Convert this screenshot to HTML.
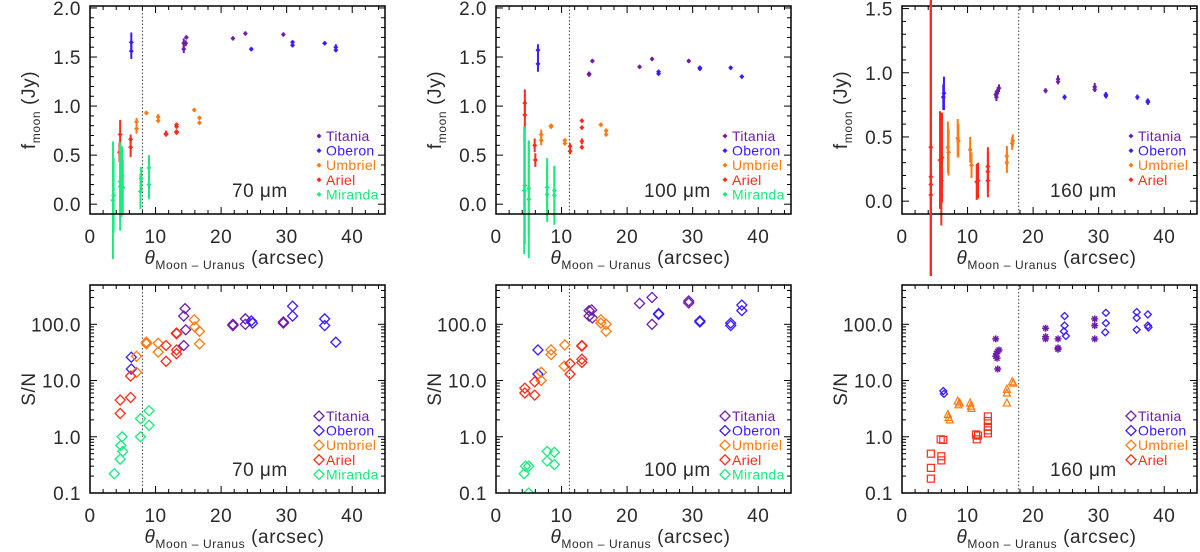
<!DOCTYPE html>
<html><head><meta charset="utf-8"><style>
body{margin:0;background:#fff;}
svg{display:block;font-family:"Liberation Sans",sans-serif;}
</style></head><body>
<svg id="c" width="1200" height="552" xmlns="http://www.w3.org/2000/svg"></svg>
<script>
const moons=["Titania","Oberon","Umbriel","Ariel","Miranda"];
const colors={Titania:"#6e1ea8",Oberon:"#3a1cff",Umbriel:"#ff7a12",Ariel:"#ff2a1a",Miranda:"#18ec7e"};
const xTicks=[0,10,20,30,40];
const fluxTicks12=["0.0","0.5","1.0","1.5","2.0"];
const fluxTicks3=["0.0","0.5","1.0","1.5"];
const snTicks=["0.1","1.0","10.0","100.0"];
const cutoffs=[8.0,11.2,17.8];
// flux data: [x, y, err]
const f70={
Titania:[[14.3,1.64,0.05],[14.3,1.58,0.04],[14.6,1.64,0.03],[14.7,1.70,0.02],[21.8,1.69,0.02],[23.7,1.74,0.02],[29.5,1.73,0.02]],
Oberon:[[6.3,1.65,0.1],[6.3,1.56,0.08],[24.6,1.58,0.02],[30.9,1.65,0.02],[30.9,1.62,0.02],[35.8,1.64,0.02],[37.5,1.60,0.03],[37.5,1.57,0.02]],
Umbriel:[[7.1,0.84,0.04],[7.1,0.77,0.05],[8.6,0.93,0.02],[10.4,0.89,0.03],[10.4,0.85,0.02],[15.9,0.96,0.02],[16.7,0.88,0.02],[16.7,0.83,0.02]],
Ariel:[[4.6,0.71,0.15],[4.5,0.53,0.1],[6.2,0.66,0.05],[6.2,0.58,0.1],[11.6,0.72,0.03],[11.6,0.71,0.02],[13.2,0.81,0.02],[13.2,0.79,0.02],[13.2,0.74,0.02],[13.2,0.73,0.02]],
Miranda:[[3.5,0.04,0.6],[3.6,0.09,0.38],[4.6,0.18,0.45],[4.6,0.23,0.4],[4.8,0.17,0.3],[4.9,0.29,0.3],[5.0,0.17,0.28],[7.7,0.13,0.18],[7.8,0.26,0.12],[9.0,0.37,0.13],[9.0,0.20,0.15]]};
const f100={
Titania:[[14.2,1.33,0.02],[14.2,1.32,0.02],[14.7,1.46,0.02],[21.9,1.40,0.02],[23.8,1.48,0.02],[29.4,1.46,0.02]],
Oberon:[[6.4,1.57,0.06],[6.4,1.43,0.08],[24.8,1.35,0.02],[24.8,1.33,0.02],[31.1,1.39,0.02],[31.1,1.38,0.02],[35.8,1.39,0.02],[37.5,1.30,0.02]],
Umbriel:[[6.9,0.71,0.05],[6.9,0.65,0.05],[8.4,0.80,0.02],[8.4,0.79,0.02],[10.5,0.65,0.02],[10.5,0.62,0.02],[16.0,0.81,0.02],[16.8,0.75,0.02],[16.8,0.71,0.02]],
Ariel:[[4.4,1.03,0.14],[4.4,0.91,0.15],[5.9,0.60,0.07],[6.0,0.45,0.07],[11.3,0.59,0.03],[11.3,0.54,0.03],[13.1,0.85,0.02],[13.1,0.78,0.02],[13.1,0.64,0.03],[13.1,0.58,0.02]],
Miranda:[[4.3,0.14,0.65],[4.4,0.19,0.6],[5.0,0.16,0.48],[5.0,0.05,0.6],[7.8,0.17,0.3],[7.8,0.10,0.28],[8.9,0.14,0.25],[8.9,0.09,0.3]]};
const f160={
Titania:[[14.3,0.83,0.03],[14.4,0.81,0.03],[14.6,0.86,0.03],[14.8,0.88,0.03],[14.5,0.84,0.03],[21.9,0.86,0.02],[23.8,0.95,0.03],[23.8,0.93,0.02],[29.4,0.89,0.03],[29.4,0.87,0.02]],
Oberon:[[6.4,0.84,0.13],[6.3,0.81,0.1],[24.8,0.81,0.02],[31.1,0.83,0.02],[31.1,0.82,0.02],[35.9,0.81,0.02],[37.5,0.78,0.02],[37.5,0.77,0.02]],
Umbriel:[[7.0,0.42,0.2],[7.1,0.38,0.18],[8.5,0.49,0.15],[8.6,0.47,0.13],[10.4,0.40,0.1],[10.6,0.28,0.1],[16.0,0.35,0.08],[16.0,0.30,0.08],[16.8,0.45,0.05],[16.9,0.47,0.05]],
Ariel:[[4.4,0.42,2.0],[4.4,0.19,2.0],[4.4,0.13,2.0],[4.4,0.05,2.0],[5.8,0.32,0.38],[6.0,0.16,0.35],[6.1,0.34,0.35],[11.4,0.15,0.14],[11.6,0.16,0.14],[13.1,0.27,0.15],[13.1,0.23,0.15],[13.1,0.16,0.13]]};
// S/N data: [x, sn]
const s70={
Titania:[[14.5,190],[14.3,140],[14.6,80],[14.3,42],[21.8,100],[21.8,95],[23.7,125],[23.7,100],[29.5,110],[29.5,105]],
Oberon:[[6.3,26],[6.3,16],[24.6,115],[24.8,105],[30.9,210],[30.9,140],[35.8,125],[35.8,95],[37.5,48]],
Umbriel:[[7.1,27],[7.1,14],[8.6,48],[8.6,45],[10.4,46],[10.4,32],[15.9,120],[16.0,90],[16.7,75],[16.7,45]],
Ariel:[[4.6,4.5],[4.6,2.6],[6.2,12],[6.2,5],[11.6,42],[11.6,22],[13.2,70],[13.2,68],[13.2,35],[13.2,30]],
Miranda:[[3.7,0.22],[4.6,0.4],[4.7,0.7],[4.9,1.0],[5.0,0.55],[7.7,2.1],[7.7,1.0],[9.0,2.9],[9.0,1.6]]};
const s100={
Titania:[[14.2,175],[14.2,140],[14.6,180],[14.7,130],[21.9,235],[23.8,300],[23.8,100],[29.4,260],[29.4,240]],
Oberon:[[6.4,35],[6.4,13],[24.8,155],[24.8,150],[31.1,115],[31.1,110],[35.8,105],[35.8,95],[37.5,220],[37.5,175]],
Umbriel:[[6.9,14],[6.9,10],[8.4,35],[8.4,29],[10.5,43],[10.4,18],[16.0,120],[16.0,105],[16.8,100],[16.8,75]],
Ariel:[[4.4,7.3],[4.4,6.0],[5.9,9.5],[5.9,5.5],[11.3,20],[11.3,13],[13.1,42],[13.1,41],[13.1,24],[13.1,21]],
Miranda:[[4.3,0.22],[4.5,0.3],[5.0,0.3],[5.0,0.1],[7.8,0.55],[7.8,0.37],[8.9,0.53],[8.9,0.32]]};
const s160={
Titania:[[14.3,55],[14.4,30],[14.3,27],[14.6,33],[14.8,35],[14.5,25],[14.6,16],[21.9,85],[21.9,60],[21.9,55],[23.8,55],[23.8,38],[23.8,36],[29.4,125],[29.4,95],[29.4,55]],
Oberon:[[6.3,6.5],[6.4,5.8],[24.8,140],[24.8,95],[24.7,75],[25.0,62],[31.1,160],[31.1,105],[31.0,72],[35.8,165],[35.8,130],[35.8,80],[37.5,150],[37.5,95],[37.6,88]],
Umbriel:[[7.0,2.5],[7.1,2.2],[7.3,2.0],[8.5,4.3],[8.6,3.7],[8.8,4.0],[10.4,4.0],[10.5,3.5],[10.6,3.2],[16.0,7.0],[16.0,6.0],[16.0,4.0],[16.8,9.5],[17.0,9.0]],
Ariel:[[4.4,0.5],[4.4,0.28],[4.4,0.18],[5.9,0.9],[6.0,0.45],[6.0,0.38],[6.3,0.88],[11.3,1.1],[11.4,0.9],[11.6,1.05],[13.1,2.3],[13.1,1.9],[13.1,1.5],[13.1,1.3],[13.1,1.15]]};

const NS="http://www.w3.org/2000/svg";
const svg=document.getElementById('c');
function mk(tag,attrs,parent){const e=document.createElementNS(NS,tag);for(const k in attrs)e.setAttribute(k,attrs[k]);(parent||svg).appendChild(e);return e;}

const lefts=[90,496,902], W=295;
function panel(pi,top,isLog,ymin,ymax,yticks,fdata,sdata,wave,legendMoons,markerMode){
  const L=lefts[pi], T=top, H=208, B=T+H, R=L+W;
  const g=mk('g',{});
  
  
  const xs=v=>L+v/45*W;
  const ys=isLog?(v=>B-(Math.log10(v)+1)/(Math.log10(ymax)+1)*H):(v=>B-(v-ymin)/(ymax-ymin)*H);
  const clip=mk('clipPath',{id:'cl'+pi+(isLog?'s':'f')},g);
  mk('rect',{x:L,y:T,width:W,height:H},clip);
  for(let v=0;v<=45;v+=2){const x=xs(v);const maj=v%10===0;const tl=maj?7:4;
    mk('line',{x1:x,y1:B,x2:x,y2:B-tl,stroke:'#000','stroke-width':1},g);
    mk('line',{x1:x,y1:T,x2:x,y2:T+tl,stroke:'#000','stroke-width':1},g);}
  xTicks.forEach(v=>{const t=mk('text',{x:xs(v),y:B+29,'text-anchor':'middle','font-size':19,fill:'#2a2a2a','letter-spacing':0.5},g);t.textContent=v;
    });
  if(isLog){
    for(let d=-1;d<3;d++)for(let m=1;m<10;m++){const v=m*Math.pow(10,d);if(v>ymax)continue;const y=ys(v);const tl=m===1?7:4;
      mk('line',{x1:L,y1:y,x2:L+tl,y2:y,stroke:'#000','stroke-width':1},g);
      mk('line',{x1:R,y1:y,x2:R-tl,y2:y,stroke:'#000','stroke-width':1},g);}
  } else {
    for(let v=-0.1;v<=ymax+1e-6;v+=0.1){const y=ys(v);const maj=Math.abs(Math.round(v*10)%5)===0;const tl=maj?7:4;
      mk('line',{x1:L,y1:y,x2:L+tl,y2:y,stroke:'#000','stroke-width':1},g);
      mk('line',{x1:R,y1:y,x2:R-tl,y2:y,stroke:'#000','stroke-width':1},g);}
  }
  yticks.forEach(s=>{const t=mk('text',{x:L-9,y:ys(parseFloat(s))+7,'text-anchor':'end','font-size':19,fill:'#2a2a2a','letter-spacing':0.5},g);t.textContent=s;
    });
  const cx=xs(cutoffs[pi]);
  const cl=mk('line',{x1:cx,y1:T,x2:cx,y2:B,stroke:'#444','stroke-width':1,'stroke-dasharray':'1.5,2'},g);
  
  const dg=mk('g',{'clip-path':isLog?'url(#cl'+pi+'s)':''},g);
  if(!isLog){
    moons.forEach(m=>{(fdata[m]||[]).forEach(p=>{const x=xs(p[0]);const c=colors[m];
      const big=p[2]>=1.5;
      const e=mk('line',{x1:x,y1:ys(p[1]+p[2]),x2:x,y2:ys(p[1]-p[2]),stroke:c,'stroke-width':2},big?svg:g);
      if(big){e.setAttribute('y1',0);e.setAttribute('y2',276);}
      
      const y=ys(p[1]);
      const d=mk('path',{d:`M${x-2.5},${y}L${x},${y-2.5}L${x+2.5},${y}L${x},${y+2.5}Z`,fill:c},g);
      });});
  } else {
    moons.forEach(m=>{(sdata[m]||[]).forEach(p=>{const x=xs(p[0]),y=ys(p[1]);const c=colors[m];let e;
      const mode=markerMode?markerMode[m]:'diamond';
      if(mode==='diamond')e=mk('path',{d:`M${x-5},${y}L${x},${y-5}L${x+5},${y}L${x},${y+5}Z`,fill:'none',stroke:c,'stroke-width':1.3},dg);
      else if(mode==='sdiamond')e=mk('path',{d:`M${x-3.5},${y}L${x},${y-3.5}L${x+3.5},${y}L${x},${y+3.5}Z`,fill:'none',stroke:c,'stroke-width':1.3},dg);
      else if(mode==='square')e=mk('rect',{x:x-3.5,y:y-3.5,width:7,height:7,fill:'none',stroke:c,'stroke-width':1.2},dg);
      else if(mode==='triangle')e=mk('path',{d:`M${x-3.5},${y+3}L${x},${y-4}L${x+3.5},${y+3}Z`,fill:'none',stroke:c,'stroke-width':1.2},dg);
      else e=mk('path',{d:`M${x-3.5},${y}H${x+3.5}M${x},${y-3.5}V${y+3.5}M${x-2.5},${y-2.5}L${x+2.5},${y+2.5}M${x-2.5},${y+2.5}L${x+2.5},${y-2.5}`,stroke:c,'stroke-width':1.5},dg);
      });});
  }
  const bx=mk('rect',{x:L,y:T,width:W,height:H,fill:'none',stroke:'#000','stroke-width':1.5},g);
  
  legendMoons.forEach((m,i)=>{const ly=T+(isLog?131:130)+i*14.6;const lx=L+229;
    if(isLog)mk('path',{d:`M${lx-5},${ly}L${lx},${ly-5}L${lx+5},${ly}L${lx},${ly+5}Z`,fill:'none',stroke:colors[m],'stroke-width':1.3},g);
    else mk('path',{d:`M${lx-2.5},${ly}L${lx},${ly-2.5}L${lx+2.5},${ly}L${lx},${ly+2.5}Z`,fill:colors[m]},g);
    const t=mk('text',{x:lx+7,y:ly+5,'font-size':14,fill:colors[m],'letter-spacing':0.3},g);t.textContent=m;
    });
  const wl=mk('text',{x:L+(wave==='70'?142:148),y:T+191,'font-size':19,fill:'#2a2a2a','letter-spacing':0.5},g);wl.textContent=wave+' \u03bcm';
  
  const xt=mk('text',{x:L+W/2-3,y:B+50,'text-anchor':'middle','font-size':19,fill:'#2a2a2a','letter-spacing':0.6},g);
  xt.innerHTML='<tspan font-style="italic">\u03b8</tspan><tspan font-size="12" dy="5">Moon \u2013 Uranus</tspan><tspan dy="-5"> (arcsec)</tspan>';
  
  const yx=L-55, yc=T+H/2;
  const yt=mk('text',{x:yx,y:yc,'text-anchor':'middle','font-size':19,fill:'#2a2a2a','letter-spacing':0.6,transform:`rotate(-90 ${yx} ${yc})`},g);
  if(isLog)yt.textContent='S/N';
  else yt.innerHTML='f<tspan font-size="12" dy="5">moon</tspan><tspan dy="-5"> (Jy)</tspan>';
  
}
const all5=moons, four=moons.slice(0,4);
panel(0,6,false,-0.1,2.02,fluxTicks12,f70,null,'70',all5);
panel(1,6,false,-0.1,2.02,fluxTicks12,f100,null,'100',all5);
panel(2,6,false,-0.1,1.52,fluxTicks3,f160,null,'160',four);
panel(0,285,true,0.1,500,snTicks,null,s70,'70',all5);
panel(1,285,true,0.1,500,snTicks,null,s100,'100',all5);
panel(2,285,true,0.1,500,snTicks,null,s160,'160',four,{Titania:'star',Oberon:'sdiamond',Umbriel:'triangle',Ariel:'square'});
</script>
</body></html>
